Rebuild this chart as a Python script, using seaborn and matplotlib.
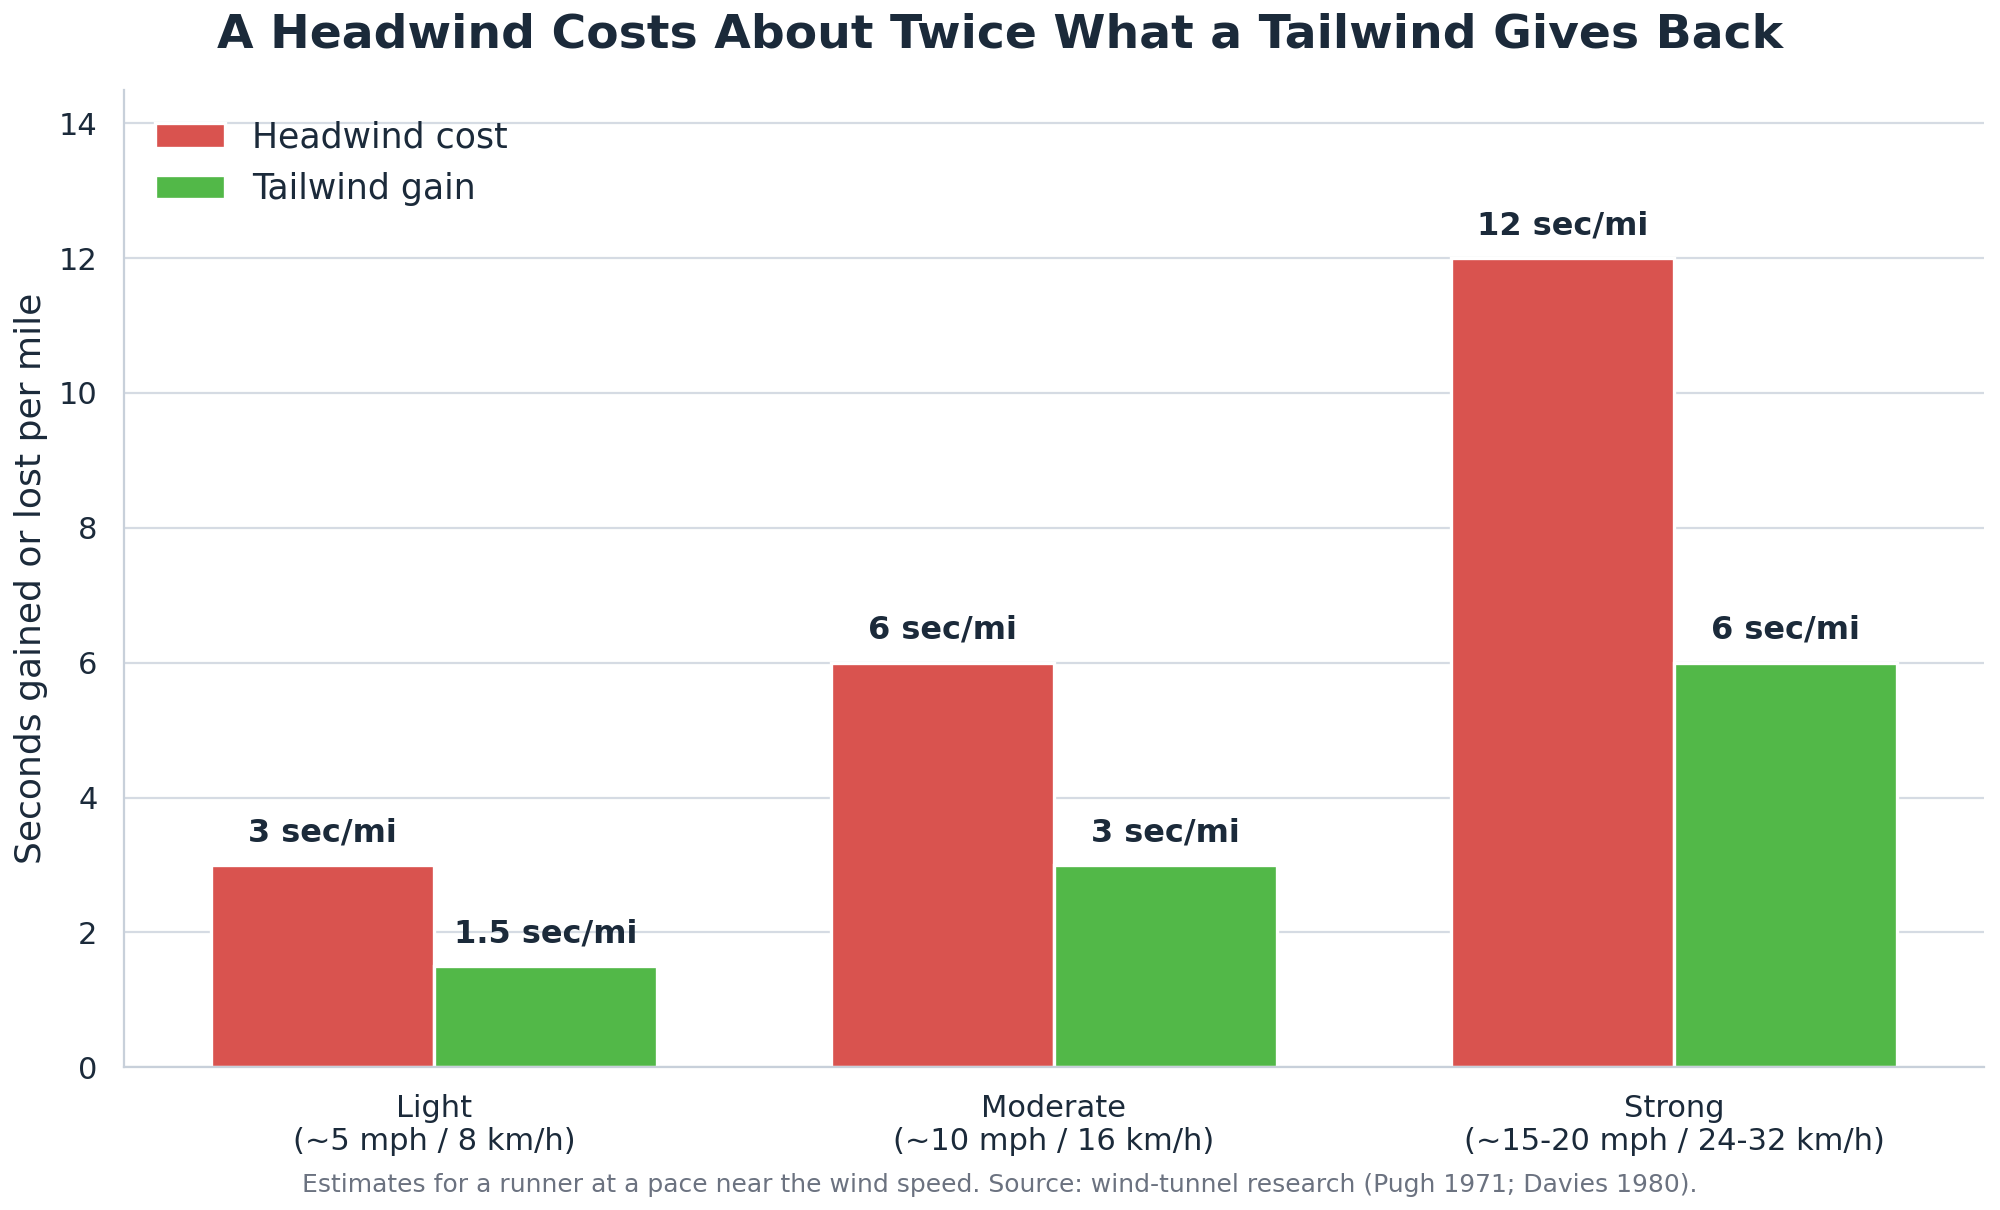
import matplotlib
matplotlib.use("Agg")
import matplotlib.pyplot as plt
import seaborn as sns
import pandas as pd

categories = ["Light\n(~5 mph / 8 km/h)", "Moderate\n(~10 mph / 16 km/h)", "Strong\n(~15-20 mph / 24-32 km/h)"]
headwind = [3, 6, 12]
tailwind = [1.5, 3, 6]
series_names = ["Headwind cost", "Tailwind gain"]

df = pd.DataFrame({
    "category": categories * 2,
    "series": [series_names[0]] * 3 + [series_names[1]] * 3,
    "value": headwind + tailwind,
})

sns.set_theme(style="whitegrid")
plt.rcParams["font.family"] = ["DejaVu Sans"]
dark = "#1b2a3a"

fig = plt.figure(figsize=(10, 6.05), dpi=200)
ax = fig.add_axes([0.062, 0.118, 0.93, 0.808])
palette = {"Headwind cost": "#d9534f", "Tailwind gain": "#52b848"}
sns.barplot(data=df, x="category", y="value", hue="series", palette=palette,
            width=0.72, edgecolor="white", linewidth=1.2, saturation=1, ax=ax)

for container in ax.containers:
    labels = [f"{v:g} sec/mi" for v in container.datavalues]
    ax.bar_label(container, labels=labels, padding=6, fontsize=11.5,
                 fontweight="bold", color=dark)

ax.set_ylim(0, 14.5)
ax.set_yticks(range(0, 15, 2))
ax.set_xlabel("")
ax.set_ylabel("Seconds gained or lost per mile", fontsize=13, color=dark)
ax.tick_params(axis="both", labelsize=11, colors=dark)
ax.grid(axis="x", visible=False)
ax.grid(axis="y", color="#d5dbe3", linewidth=0.8)
ax.set_facecolor("white")
for s in ["top", "right"]:
    ax.spines[s].set_visible(False)
for s in ["left", "bottom"]:
    ax.spines[s].set_color("#c8d0da")
    ax.spines[s].set_linewidth(0.8)

leg = ax.legend(loc="upper left", fontsize=12.5, frameon=False)
for t in leg.get_texts():
    t.set_color(dark)

fig.suptitle("A Headwind Costs About Twice What a Tailwind Gives Back",
             fontsize=17, fontweight="bold", color=dark, y=0.99)
fig.text(0.5, 0.015, "Estimates for a runner at a pace near the wind speed. Source: wind-tunnel research (Pugh 1971; Davies 1980).",
         ha="center", fontsize=9, color="#6b7280")

fig.savefig("out.png", dpi=200, facecolor="white")
